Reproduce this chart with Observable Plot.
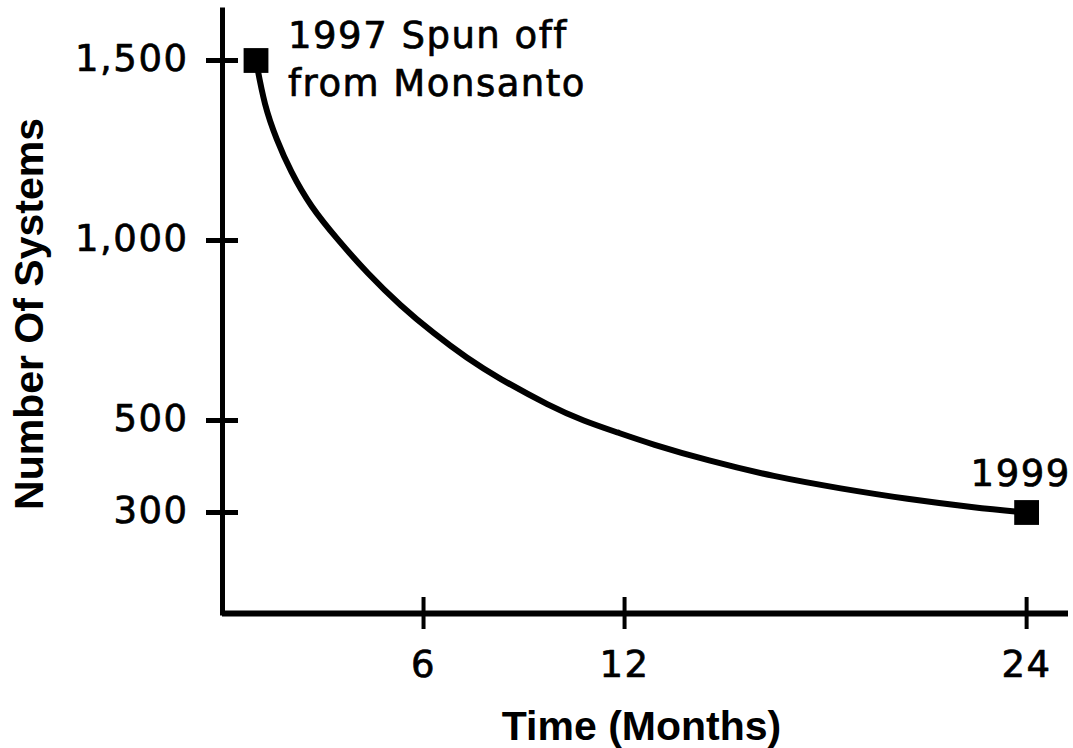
<!DOCTYPE html>
<html>
<head>
<meta charset="utf-8">
<script src="https://cdn.jsdelivr.net/npm/d3@7"></script>
<script src="https://cdn.jsdelivr.net/npm/@observablehq/plot@0.6"></script>
<style>
  html, body { margin: 0; padding: 0; background: #fff; }
  svg { display: block; }
  g[font-family="DejaVu Sans"] text { letter-spacing: 1.5px; }
</style>
</head>
<body>
<div id="chart"></div>
<script>
// Data
const months  = [1, 1.25, 1.61, 2.03, 2.63, 3.43, 4.33, 5.31, 6.30, 7.31, 8.21, 9.79, 10.78, 11.79, 12.78, 14.48, 16.45, 18.45, 20.45, 22.42, 24];
const systems = [1500, 1375, 1281, 1192, 1094, 1003, 908, 819, 742, 672, 619, 539, 499, 474, 449, 413, 378, 352, 329, 311, 300];

const xTicks = [6, 12, 24];
const yTicks = [300, 500, 1000, 1500];

const endpoints = [
  {month: 1, systems: 1500, label: "1997 Spun off\nfrom Monsanto"},
  {month: 24, systems: 300, label: "1999"}
];

const xTitle = "Time (Months)";
const yTitle = "Number Of Systems";

// Schematic (non-uniform) value axis, as drawn in the original:
// break points of the value axis and their relative heights on the axis
const yBreaks = [80, 300, 500, 1000, 1500, 1639];
const yLevels = [0, 101, 193, 373, 553, 603];
const yWarp = d3.scaleLinear().domain(yBreaks).range(yLevels);
const xDomain = [0, 25.25];

const curve = months.map((m, i) => ({month: m, systems: systems[i]}));

const FONT = "'Liberation Sans', Arial, Helvetica, sans-serif";
const LABEL_FONT = "DejaVu Sans";

const chart = Plot.plot({
  width: 1073,
  height: 748,
  marginLeft: 222,
  marginRight: 5,
  marginTop: 10,
  marginBottom: 135,
  style: {fontFamily: FONT, background: "#fff", color: "#000"},
  x: {domain: xDomain, axis: null},
  y: {transform: yWarp, domain: [yLevels[0], yLevels[yLevels.length - 1]], axis: null},
  marks: [
    // axis lines
    Plot.ruleX([xDomain[0]], {y1: yBreaks[0], y2: yBreaks[yBreaks.length - 1], stroke: "#000", strokeWidth: 5, strokeLinecap: "square"}),
    Plot.ruleY([yBreaks[0]], {x1: xDomain[0], x2: xDomain[1], stroke: "#000", strokeWidth: 6}),
    // crossing ticks
    Plot.ruleX(xTicks, {y1: yBreaks[0], y2: yBreaks[0], insetTop: -16, insetBottom: -16, stroke: "#000", strokeWidth: 4}),
    Plot.ruleY(yTicks, {x1: xDomain[0], x2: xDomain[0], insetLeft: -16, insetRight: -16, stroke: "#000", strokeWidth: 5}),
    // tick labels
    Plot.text(yTicks, {x: xDomain[0], y: d => d, text: d => d3.format(",")(d), textAnchor: "end", dx: -34, dy: -1, fontSize: 37, fontFamily: LABEL_FONT, fill: "#000", stroke: "#000", strokeWidth: 0.7}),
    Plot.text(xTicks, {x: d => d, y: yBreaks[0], text: d => String(d), dy: 52, fontSize: 37, fontFamily: LABEL_FONT, fill: "#000", stroke: "#000", strokeWidth: 0.7}),
    // axis titles
    Plot.text([xTitle], {frameAnchor: "bottom", text: d => d, lineAnchor: "bottom", dx: -4, dy: 126, fontSize: 41, fontWeight: "bold", fill: "#000"}),
    Plot.text([yTitle], {frameAnchor: "left", text: d => d, rotate: -90, textAnchor: "middle", lineAnchor: "bottom", dx: -180, dy: 2, fontSize: 41, fontWeight: "bold", fill: "#000"}),
    // the curve
    Plot.line(curve, {x: "month", y: "systems", curve: "basis", stroke: "#000", strokeWidth: 6}),
    // endpoints
    Plot.dot(endpoints, {x: "month", y: "systems", symbol: "square", r: 14, fill: "#000", stroke: null}),
    Plot.text([endpoints[0]], {x: "month", y: "systems", text: "label", textAnchor: "start", lineAnchor: "bottom", lineHeight: 1.29, dx: 32, dy: 35, fontSize: 37, fontFamily: LABEL_FONT, fill: "#000", stroke: "#000", strokeWidth: 0.7}),
    Plot.text([endpoints[1]], {x: "month", y: "systems", text: "label", textAnchor: "start", lineAnchor: "bottom", dx: -56, dy: -27, fontSize: 37, fontFamily: LABEL_FONT, fill: "#000", stroke: "#000", strokeWidth: 0.7})
  ]
});

document.getElementById("chart").appendChild(chart);
</script>
</body>
</html>
